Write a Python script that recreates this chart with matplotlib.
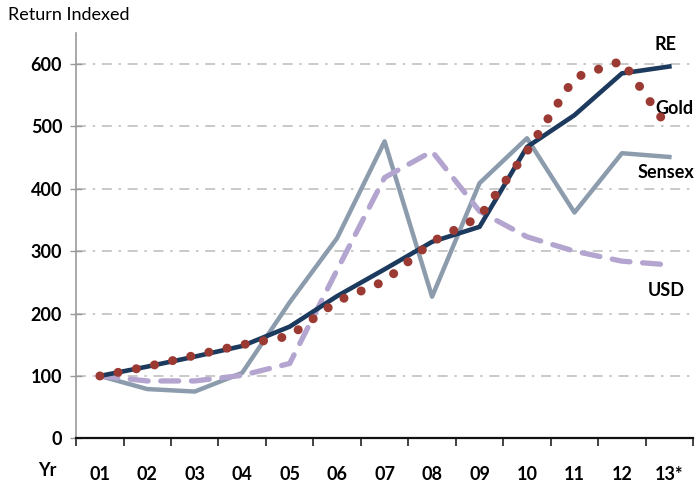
import matplotlib
matplotlib.use("Agg")
import matplotlib.pyplot as plt
import numpy as np

years = ["01", "02", "03", "04", "05", "06", "07", "08", "09", "10", "11", "12", "13*"]
re_vals = [100, 115, 131, 148, 179, 228, 271, 315, 339, 467, 518, 585, 596]
gold_vals = [100, 115, 133, 150, 164, 220, 252, 315, 355, 460, 578, 605, 495]
sensex_vals = [100, 79, 75, 105, 218, 321, 476, 227, 409, 481, 362, 457, 451]
usd_vals = [100, 92, 92, 101, 120, 270, 418, 460, 364, 323, 300, 284, 278]
yticks = [0, 100, 200, 300, 400, 500, 600]

plt.rcParams['font.family'] = ['Lato', 'DejaVu Sans']

fig = plt.figure(figsize=(6.98, 4.97), dpi=100)
ax = fig.add_axes([0.109, 0.118, 0.884, 0.816])

x = np.arange(len(years))

c_re = "#1c3a5e"
c_gold = "#9b3a33"
c_sensex = "#8c9cad"
c_usd = "#b3a5cf"

for yv in yticks[1:]:
    ax.axhline(yv, color="#c0c0c0", lw=1.2, ls=(0, (6, 4, 1.5, 4)), zorder=0)

ax.plot(x, sensex_vals, color=c_sensex, lw=3.2, zorder=2)
ax.plot(x, usd_vals, color=c_usd, lw=3.8, ls=(0, (3.4, 2.4)), dash_capstyle="round", zorder=3)
ax.plot(x, re_vals, color=c_re, lw=3.3, zorder=4)
ax.plot(x, gold_vals, color=c_gold, lw=6.5, ls=(0, (0.01, 2.05)), dash_capstyle="round", zorder=5)

ax.set_xlim(-0.5, len(years) - 0.5)
ax.set_ylim(0, 650)

ax.set_xticks(np.arange(-0.5, len(years)), minor=False)
ax.set_xticklabels([])
ax.set_xticks(x, minor=True)
ax.set_xticklabels(years, minor=True, fontsize=13, fontweight="bold")
ax.tick_params(axis="x", which="major", direction="out", length=6, width=1.2, color="#222222")
ax.tick_params(axis="x", which="minor", length=0, pad=20)

ax.set_yticks(yticks)
ax.set_yticklabels([str(v) for v in yticks], fontsize=13, fontweight="bold")
ax.tick_params(axis="y", direction="inout", length=8, width=1.0, color="#999999", pad=6)

for s in ["top", "right"]:
    ax.spines[s].set_visible(False)
ax.spines["left"].set_color("#999999")
ax.spines["left"].set_linewidth(1.2)
ax.spines["bottom"].set_color("#111111")
ax.spines["bottom"].set_linewidth(1.6)

fig.text(8 / 698, 1 - 15 / 497, "Return Indexed", fontsize=13, va="center", ha="left")
fig.text(38 / 698, 1 - 470 / 497, "Yr", fontsize=13, fontweight="bold", va="center", ha="left")

ax.annotate("RE", xy=(666 / 698, 1 - 45 / 497), xycoords="figure fraction",
            fontsize=13, fontweight="bold", ha="center", va="center")
ax.annotate("Gold", xy=(655 / 698, 1 - 109 / 497), xycoords="figure fraction",
            fontsize=13, fontweight="bold", ha="left", va="center")
ax.annotate("Sensex", xy=(638 / 698, 1 - 173 / 497), xycoords="figure fraction",
            fontsize=13, fontweight="bold", ha="left", va="center")
ax.annotate("USD", xy=(648 / 698, 1 - 290 / 497), xycoords="figure fraction",
            fontsize=13, fontweight="bold", ha="left", va="center")

fig.savefig("out.png", dpi=100)
